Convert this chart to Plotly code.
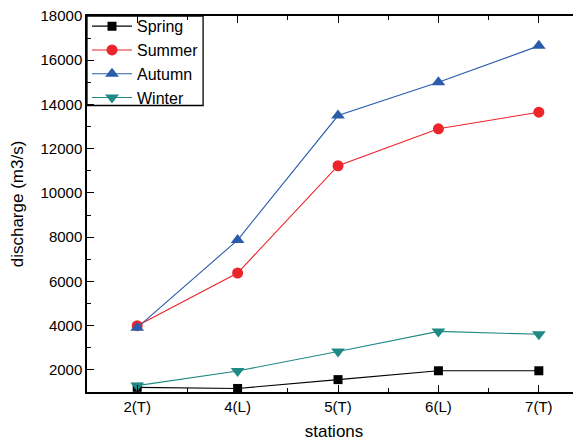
import plotly.graph_objects as go

stations = ["2(T)", "4(L)", "5(T)", "6(L)", "7(T)"]
spring = [1210, 1160, 1560, 1960, 1960]
summer = [4000, 6380, 11230, 12900, 13650]
autumn = [3910, 7870, 13500, 15000, 16650]
winter = [1290, 1950, 2830, 3740, 3610]

series = [
    ("Spring", spring, "#000000", "square", 9),
    ("Summer", summer, "#ec242b", "circle", 11),
    ("Autumn", autumn, "#2b5cab", "triangle-up", 12),
    ("Winter", winter, "#1f8985", "triangle-down", 12),
]

xi = list(range(len(stations)))
fig = go.Figure()
for name, vals, col, sym, sz in series:
    fig.add_trace(go.Scatter(
        x=xi, y=vals, name=name, mode="lines+markers",
        line=dict(color=col, width=1.1),
        marker=dict(symbol=sym, size=sz, color=col, line=dict(width=0)),
    ))

# legend frame
fig.add_shape(type="rect", xref="x domain", yref="y domain",
              x0=0, x1=0.235, y0=0.762, y1=1.0,
              line=dict(color="black", width=1.3), layer="above")

# page body has an 8px default margin; figure sized so plot area lands where the reference has it
font = "Liberation Sans, Arial, Helvetica, sans-serif"
fig.update_layout(
    width=573, height=433,
    margin=dict(l=79, r=0, t=8, b=49, autoexpand=False),
    paper_bgcolor="white", plot_bgcolor="white",
    font=dict(family=font, color="black", size=15),
    showlegend=True,
    legend=dict(x=0.0, y=1.018, xanchor="left", yanchor="top",
                borderwidth=0, bgcolor="rgba(0,0,0,0)",
                font=dict(size=16), tracegroupgap=0,
                itemwidth=40),
    xaxis=dict(
        range=[-0.5, 4.42], tickmode="array", tickvals=xi, ticktext=stations,
        showgrid=False, zeroline=False, showline=True, linecolor="black",
        linewidth=1.5, mirror="ticks", ticks="inside", ticklen=7,
        tickwidth=1.2, tickcolor="black", automargin=False,
        ticklabeloverflow="allow",
        minor=dict(tickmode="array", tickvals=[0.5, 1.5, 2.5, 3.5],
                   ticks="inside", ticklen=4, tickcolor="black", tickwidth=1.2),
        title=dict(text="stations", font=dict(size=17), standoff=12),
        tickfont=dict(size=15),
    ),
    yaxis=dict(
        range=[1000, 18000], tickmode="array",
        tickvals=[2000, 4000, 6000, 8000, 10000, 12000, 14000, 16000, 18000],
        ticktext=["2000", "4000", "6000", "8000", "10000", "12000", "14000", "16000", "18000"],
        showgrid=False, zeroline=False, showline=True, linecolor="black",
        linewidth=1.5, ticks="inside", ticklen=7, tickwidth=1.2, tickcolor="black",
        automargin=False, ticklabeloverflow="allow",
        minor=dict(tickmode="array",
                   tickvals=[1000, 3000, 5000, 7000, 9000, 11000, 13000, 15000, 17000],
                   ticks="inside", ticklen=4, tickcolor="black", tickwidth=1.2),
        title=dict(text="discharge (m3/s)", font=dict(size=17), standoff=14),
        tickfont=dict(size=15),
    ),
)

fig.write_html("out.html")
